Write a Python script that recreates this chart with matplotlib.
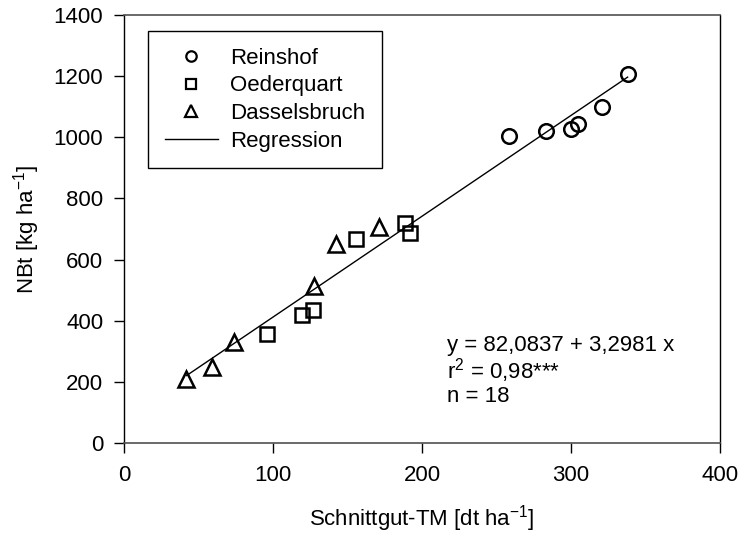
import numpy as np
import matplotlib
matplotlib.use("Agg")
import matplotlib.pyplot as plt
from matplotlib.lines import Line2D

plt.rcParams['font.family'] = ['Liberation Sans', 'DejaVu Sans']
plt.rcParams['mathtext.fontset'] = 'custom'
plt.rcParams['mathtext.rm'] = 'Liberation Sans'
plt.rcParams['mathtext.it'] = 'Liberation Sans:italic'

# Data
reinshof_x = [258.6, 283.2, 299.8, 304.9, 321.0, 338.5]
reinshof_y = [1004, 1021, 1027, 1042, 1099, 1206]
oeder_x = [95.8, 119.7, 126.6, 155.9, 188.4, 191.7]
oeder_y = [358, 420, 434, 666, 719, 686]
dassel_x = [41.6, 58.9, 73.6, 127.7, 142.1, 170.9]
dassel_y = [208, 248, 329, 514, 651, 706]
reg_intercept = 82.0837
reg_slope = 3.2981
reg_xrange = [42, 338]

x_ticks = [0, 100, 200, 300, 400]
y_ticks = [0, 200, 400, 600, 800, 1000, 1200, 1400]

fs = 16
fig = plt.figure(figsize=(7.44, 5.36), dpi=100)
ax = fig.add_axes([124/744, (536-443)/536, 596/744, 428/536])

ax.plot(reinshof_x, reinshof_y, linestyle='none', marker='o', ms=10.5,
        mfc='none', mec='black', mew=1.8, label='Reinshof')
ax.plot(oeder_x, oeder_y, linestyle='none', marker='s', ms=9.5,
        mfc='none', mec='black', mew=1.8, label='Oederquart')
ax.plot(dassel_x, dassel_y, linestyle='none', marker='^', ms=11.5,
        mfc='none', mec='black', mew=1.8, label='Dasselsbruch')
xr = np.array(reg_xrange, dtype=float)
ax.plot(xr, reg_intercept + reg_slope * xr, color='black', lw=1.0,
        label='Regression')

ax.set_xlim(0, 400)
ax.set_ylim(0, 1400)
ax.set_xticks(x_ticks)
ax.set_yticks(y_ticks)
ax.tick_params(axis='both', direction='out', length=7, width=1,
               labelsize=fs, colors='black')
ax.tick_params(axis='x', pad=9)
ax.tick_params(axis='y', pad=8)
for s in ['left', 'right']:
    ax.spines[s].set_color('black')
    ax.spines[s].set_linewidth(1.0)
for s in ['top', 'bottom']:
    ax.spines[s].set_color('#505050')
    ax.spines[s].set_linewidth(1.2)

ax.set_xlabel('Schnittgut-TM [dt ha$^{-1}$]', fontsize=fs, labelpad=12)
ax.set_ylabel('NBt [kg ha$^{-1}$]', fontsize=fs, labelpad=8)

handles = [
    Line2D([], [], linestyle='none', marker='o', ms=7.5, mfc='none', mec='black', mew=1.6),
    Line2D([], [], linestyle='none', marker='s', ms=6.5, mfc='none', mec='black', mew=1.6),
    Line2D([], [], linestyle='none', marker='^', ms=8, mfc='none', mec='black', mew=1.6),
    Line2D([], [], color='black', lw=1.0),
]
labels = ['Reinshof', 'Oederquart', 'Dasselsbruch', 'Regression']
leg = ax.legend(handles, labels, loc='upper left',
                bbox_to_anchor=((148-124)/596, (443-31)/428),
                borderaxespad=0, fancybox=False, framealpha=1,
                edgecolor='black', fontsize=fs, handlelength=2.4,
                handletextpad=0.55, labelspacing=0.3, borderpad=0.75)
leg.get_frame().set_linewidth(1.0)

tx = (447-124)/596
ax.text(tx, (443-345)/428, 'y = 82,0837 + 3,2981 x', transform=ax.transAxes,
        fontsize=fs, va='center', ha='left')
ax.text(tx, (443-371)/428, 'r$^2$ = 0,98***', transform=ax.transAxes,
        fontsize=fs, va='center', ha='left')
ax.text(tx, (443-397)/428, 'n = 18', transform=ax.transAxes,
        fontsize=fs, va='center', ha='left')

fig.savefig('out.png', dpi=100)
